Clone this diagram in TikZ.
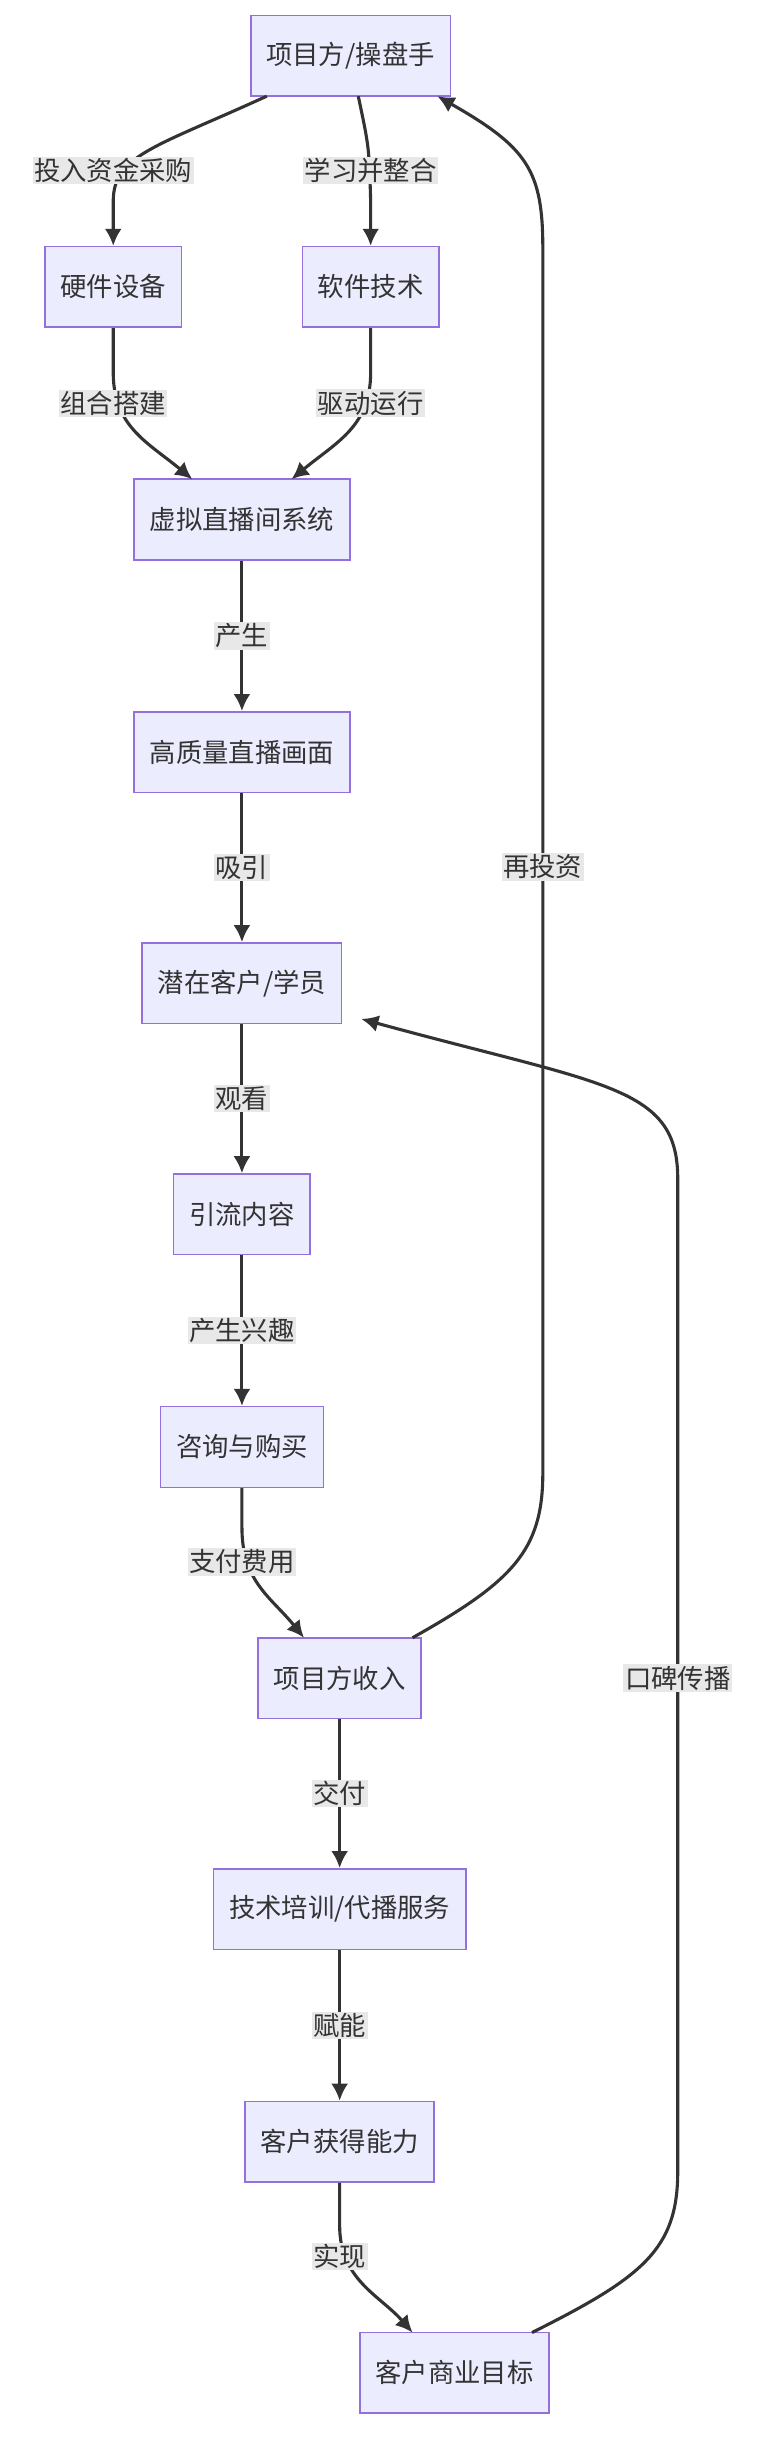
\documentclass[tikz,border=0pt]{standalone}
\usepackage{fontspec}
\setmainfont{Noto Sans CJK SC}
\usetikzlibrary{arrows.meta}
\definecolor{bd}{RGB}{147,112,219}
\definecolor{bf}{RGB}{236,236,255}
\definecolor{ed}{RGB}{51,51,51}
\definecolor{lb}{RGB}{232,232,232}
\begin{document}
\begin{tikzpicture}[x=1pt,y=-1pt,
  box/.style={draw=bd,fill=bf,line width=1pt,minimum height=52pt,inner xsep=10pt,font=\fontsize{17}{20}\selectfont,text=ed},
  e/.style={draw=ed,line width=2pt,-{Latex[length=11pt,width=11pt]}},
  lab/.style={fill=lb,inner sep=1pt,font=\fontsize{17}{20}\selectfont,text=ed}]
\useasboundingbox (0,0) rectangle (490,1572);
\node[box] (a) at (226,36) {项目方/操盘手};
\node[box] (h) at (73,185) {硬件设备};
\node[box] (s) at (239,185) {软件技术};
\node[box] (v) at (156,335) {虚拟直播间系统};
\node[box] (q) at (156,485) {高质量直播画面};
\node[box] (c) at (156,634) {潜在客户/学员};
\node[box] (y) at (156,783) {引流内容};
\node[box] (z) at (156,933) {咨询与购买};
\node[box] (r) at (219,1082) {项目方收入};
\node[box] (t) at (219,1231) {技术培训/代播服务};
\node[box] (k) at (219,1381) {客户获得能力};
\node[box] (g) at (293,1530) {客户商业目标};
\coordinate (a1) at (172,62); \coordinate (a2) at (231,62);
\coordinate (v1) at (124,309); \coordinate (v2) at (188,309);
\coordinate (r1) at (196,1056); \coordinate (r2) at (266,1056);
\coordinate (g1) at (266,1504); \coordinate (g2) at (343,1504);
\coordinate (a3) at (282,62); \coordinate (c3) at (233,657);
\draw[e] (a1) .. controls (100,95) and (73,100) .. (73,130) -- (h.north);
\node[lab] at (73,110) {投入资金采购};
\draw[e] (a2) .. controls (238,95) .. (239,130) -- (s.north);
\node[lab] at (239,110) {学习并整合};
\draw[e] (h.south) -- (73,240) .. controls (73,275) and (95,285) .. (v1);
\node[lab] at (73,260) {组合搭建};
\draw[e] (s.south) -- (239,240) .. controls (239,275) and (217,285) .. (v2);
\node[lab] at (239,260) {驱动运行};
\draw[e] (v.south) -- node[lab]{产生} (q.north);
\draw[e] (q.south) -- node[lab]{吸引} (c.north);
\draw[e] (c.south) -- node[lab]{观看} (y.north);
\draw[e] (y.south) -- node[lab]{产生兴趣} (z.north);
\draw[e] (z.south) -- (156,985) .. controls (156,1020) and (175,1030) .. (r1);
\node[lab] at (156,1007) {支付费用};
\draw[e] (r.south) -- node[lab]{交付} (t.north);
\draw[e] (t.south) -- node[lab]{赋能} (k.north);
\draw[e] (k.south) -- (219,1435) .. controls (219,1470) and (245,1480) .. (g1);
\node[lab] at (219,1455) {实现};
\draw[e] (r2) .. controls (330,1020) and (350,1000) .. (350,950) -- (350,160) .. controls (350,110) and (340,95) .. (a3);
\node[lab] at (350,559) {再投资};
\draw[e] (g2) .. controls (415,1468) and (437,1450) .. (437,1400) -- (437,760) .. controls (437,700) and (390,700) .. (c3);
\node[lab] at (437,1082) {口碑传播};
\end{tikzpicture}
\end{document}
